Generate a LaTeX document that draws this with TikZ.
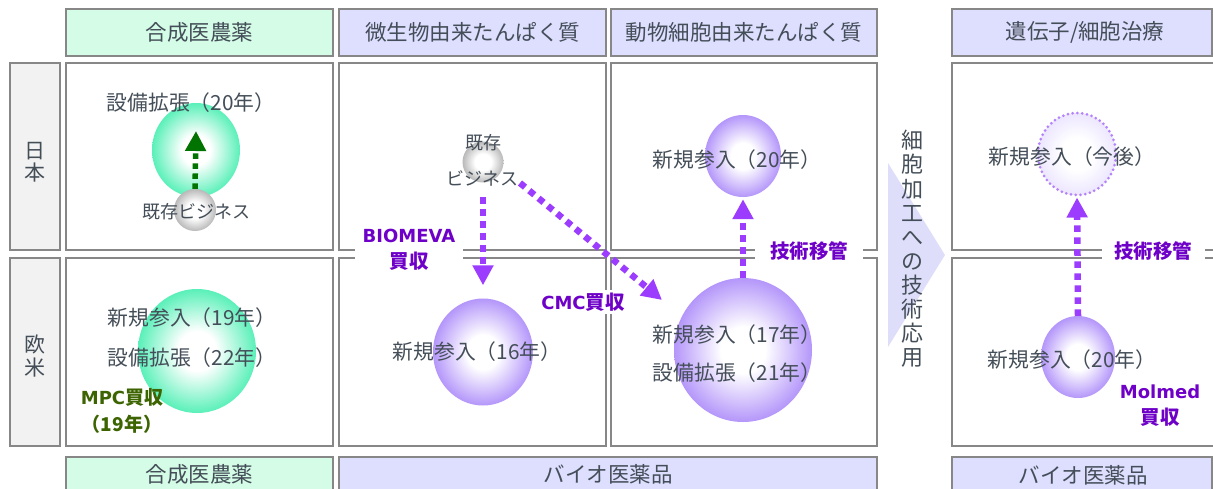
\documentclass[tikz,border=0pt]{standalone}
\usepackage{fontspec}
\setmainfont{Noto Sans CJK JP}
\newfontfamily\latb{DejaVu Sans}
\usetikzlibrary{arrows.meta,shapes.geometric}
\definecolor{txt}{RGB}{68,78,88}
\definecolor{bord}{RGB}{135,135,135}
\definecolor{mint}{RGB}{212,252,230}
\definecolor{lav}{RGB}{222,222,255}
\definecolor{lgray}{RGB}{242,242,242}
\definecolor{pcirc}{RGB}{180,150,250}
\definecolor{gcirc}{RGB}{90,240,185}
\definecolor{gball}{RGB}{185,185,185}
\definecolor{parrow}{RGB}{155,60,255}
\definecolor{plabel}{RGB}{110,0,200}
\definecolor{garrow}{RGB}{0,115,0}
\definecolor{glabel}{RGB}{60,100,0}
\definecolor{chev}{RGB}{222,222,250}
\definecolor{pdot}{RGB}{180,130,250}
\definecolor{pfaint}{RGB}{236,230,255}
\pgfdeclareradialshading{pball}{\pgfpointorigin}{color(0bp)=(white); color(8bp)=(white); color(25bp)=(pcirc); color(50bp)=(pcirc)}
\pgfdeclareradialshading{gballsh}{\pgfpointorigin}{color(0bp)=(white); color(8bp)=(white); color(25bp)=(gcirc); color(50bp)=(gcirc)}
\pgfdeclareradialshading{grayball}{\pgfpointorigin}{color(0bp)=(white); color(10bp)=(white); color(25bp)=(gball); color(50bp)=(gball)}
\pgfdeclareradialshading{faintball}{\pgfpointorigin}{color(0bp)=(white); color(10bp)=(white); color(25bp)=(pfaint); color(50bp)=(pfaint)}
\tikzset{
  cell/.style={draw=bord, line width=2pt, fill=white, inner sep=0},
  hdrg/.style={cell, fill=mint},
  hdrp/.style={cell, fill=lav},
  rowlab/.style={cell, fill=lgray},
  hdrtxt/.style={text=txt, font=\fontsize{21.5}{24}\selectfont, inner sep=0},
  body/.style={text=txt, font=\fontsize{20.8}{24}\selectfont, inner sep=0},
  small/.style={text=txt, font=\fontsize{18}{22}\selectfont, inner sep=0},
  vtxt/.style={text=txt, align=center, inner sep=0},
  plab/.style={text=plabel, font=\bfseries\fontsize{19.5}{26}\selectfont, align=center, inner sep=0},
  glab/.style={text=glabel, font=\bfseries\fontsize{19}{27}\selectfont, align=center, inner sep=0},
  ball/.style={ellipse, inner sep=0},
  parr/.style={draw=parrow, line width=6.5pt, dash pattern=on 6.5pt off 5.5pt, -{Triangle[length=20pt,width=20pt]}},
  garr/.style={draw=garrow, line width=5.5pt, dash pattern=on 5.5pt off 4.5pt, -{Triangle[length=20pt,width=20pt]}},
}
\newcommand{\lt}[1]{{\latb\bfseries\fontsize{18}{26}\selectfont #1}}
\begin{document}
\begin{tikzpicture}[x=1pt,y=-1pt]
\useasboundingbox (0,0) rectangle (1213,488);
% top headers
\node[hdrg, minimum width=267, minimum height=47] (h1) at (199.5,32.5) {};
\node[hdrp, minimum width=267, minimum height=47] (h2) at (472.5,32.5) {};
\node[hdrp, minimum width=266, minimum height=47] (h3) at (744,32.5) {};
\node[hdrp, minimum width=260, minimum height=47] (h4) at (1082,32.5) {};
\node[hdrtxt] (h1t) at (199.5,32) {合成医農薬};
\node[hdrtxt] (h2t) at (472.5,32) {微生物由来たんぱく質};
\node[hdrtxt] (h3t) at (744,32) {動物細胞由来たんぱく質};
\node[hdrtxt] (h4t) at (1085,32) {遺伝子/細胞治療};
% row labels
\node[rowlab, minimum width=50, minimum height=187] (rl1) at (35,156.5) {};
\node[rowlab, minimum width=50, minimum height=188] (rl2) at (35,352) {};
\node[vtxt, font=\fontsize{21}{22}\selectfont] (rl1t) at (35,162) {日\\本};
\node[vtxt, font=\fontsize{21}{23}\selectfont] (rl2t) at (35,356) {欧\\米};
% cells
\node[cell, minimum width=267, minimum height=187] (c11) at (199.5,156.5) {};
\node[cell, minimum width=267, minimum height=188] (c21) at (199.5,352) {};
\node[cell, minimum width=267, minimum height=187] (c12) at (472.5,156.5) {};
\node[cell, minimum width=267, minimum height=188] (c22) at (472.5,352) {};
\node[cell, minimum width=266, minimum height=187] (c13) at (744,156.5) {};
\node[cell, minimum width=266, minimum height=188] (c23) at (744,352) {};
\node[cell, minimum width=273, minimum height=187] (c14) at (1088.5,156.5) {};
\node[cell, minimum width=273, minimum height=188] (c24) at (1088.5,352) {};
% bottom headers
\node[hdrg, minimum width=267, minimum height=48] (b1) at (199.5,481) {};
\node[hdrp, minimum width=538, minimum height=48] (b2) at (608,481) {};
\node[hdrp, minimum width=260, minimum height=48] (b3) at (1082,481) {};
\node[hdrtxt] (b1t) at (199.5,474) {合成医農薬};
\node[hdrtxt] (b2t) at (608,474) {バイオ医薬品};
\node[hdrtxt] (b3t) at (1083,475) {バイオ医薬品};
% chevron
\path[fill=chev] (888,163) -- (945,255) -- (888,347) -- cycle;
\node[vtxt, font=\fontsize{22}{24.1}\selectfont] (vt) at (912,249) {細\\胞\\加\\工\\へ\\の\\技\\術\\応\\用};
% circles
\node[ball, shading=gballsh, minimum width=88, minimum height=94] (gc1) at (196,150) {};
\node[ball, shading=grayball, minimum width=42, minimum height=42] (gb1) at (195,210) {};
\node[ball, shading=gballsh, minimum width=118, minimum height=124] (gc2) at (197,351) {};
\node[ball, shading=grayball, minimum width=41, minimum height=41] (gb2) at (483,162) {};
\node[ball, shading=pball, minimum width=100, minimum height=107] (p22) at (483,352) {};
\node[ball, shading=pball, minimum width=76, minimum height=82] (p13) at (743,156) {};
\node[ball, shading=pball, minimum width=138, minimum height=144] (p23) at (743,350) {};
\node[ball, shading=faintball, draw=pdot, line width=3pt, dash pattern=on 0pt off 4.8pt, line cap=round, minimum width=78, minimum height=82] (p14) at (1077,154) {};
\node[ball, shading=pball, minimum width=74, minimum height=82] (p24) at (1078,357) {};
% texts
\node[body] (t11) at (191,103) {設備拡張（20年）};
\node[small] (t11b) at (196,212) {既存ビジネス};
\node[body] (t21a) at (192,318) {新規参入（19年）};
\node[body] (t21b) at (192,358) {設備拡張（22年）};
\node[small] (t12a) at (483,143) {既存};
\node[small] (t12b) at (482,178) {ビジネス};
\node[body] (t22) at (477,352) {新規参入（16年）};
\node[body] (t13) at (737,160) {新規参入（20年）};
\node[body] (t23a) at (737,335) {新規参入（17年）};
\node[body] (t23b) at (737,373) {設備拡張（21年）};
\node[body] (t14) at (1072,157) {新規参入（今後）};
\node[body] (t24) at (1072,360) {新規参入（20年）};
% arrows
\coordinate (ga1) at (196,131);
\draw[garr] (gb1.north) -- (ga1);
\coordinate (s2) at (483,197);
\draw[parr, shorten >=13pt] (s2) -- (p22.north);
\coordinate (d1) at (520,183);
\coordinate (d2) at (662,300);
\draw[parr] (d1) -- (d2);
\draw[parr, shorten >=2pt] (p23.north) -- (p13.south);
\draw[parr, shorten >=1pt] (p24.north) -- (p14.south);
% labels
\node[plab, fill=white, minimum width=108, minimum height=54] (bio) at (409,250) {\lt{BIOMEVA}\\買収};
\node[plab, fill=white, inner sep=3pt] (cmc) at (583,302) {\lt{CMC}買収};
\node[plab, fill=white, minimum width=108, minimum height=30] (ij1) at (809,251) {技術移管};
\node[plab, fill=white, minimum width=103, minimum height=30] (ij2) at (1153,251) {技術移管};
\node[plab] (mol) at (1160,406) {\lt{Molmed}\\買収};
\node[glab] (mpc) at (122,411) {\lt{MPC}買収\\（19年）};
\end{tikzpicture}
\end{document}
